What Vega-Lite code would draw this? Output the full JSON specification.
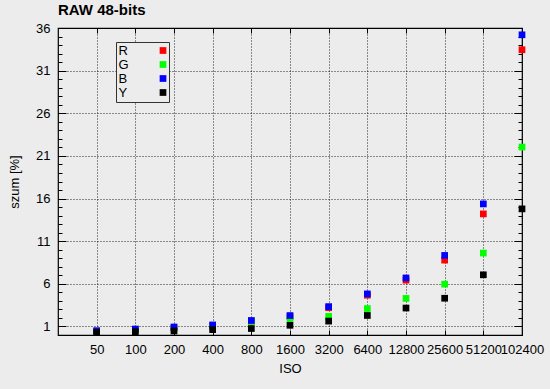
{
  "$schema": "https://vega.github.io/schema/vega-lite/v6.json",
  "width": 464,
  "height": 307,
  "autosize": "none",
  "padding": {"left": 58, "top": 28, "right": 28, "bottom": 54},
  "background": "#ececec",
  "title": {"text": "RAW 48-bits", "anchor": "start", "frame": "group", "font": "Liberation Sans", "fontSize": 15, "fontWeight": "bold", "color": "#000", "offset": 4},
  "config": {
    "view": {"stroke": "#000", "strokeWidth": 1.2, "fill": "#ececec"},
    "axis": {"labelFont": "Liberation Sans", "labelFontSize": 13, "labelColor": "#000", "titleFont": "Liberation Sans", "titleFontSize": 13, "titleFontWeight": "normal", "titleColor": "#000", "domain": false, "tickColor": "#000", "tickWidth": 1, "gridColor": "#000", "gridDash": [1, 2], "gridOpacity": 0.85, "gridWidth": 1}
  },
  "data": {"values": [
    {"ISO": 50, "channel": "R", "value": 0.45},
    {"ISO": 50, "channel": "G", "value": 0.4},
    {"ISO": 50, "channel": "B", "value": 0.5},
    {"ISO": 50, "channel": "Y", "value": 0.31},
    {"ISO": 100, "channel": "R", "value": 0.62},
    {"ISO": 100, "channel": "G", "value": 0.52},
    {"ISO": 100, "channel": "B", "value": 0.7},
    {"ISO": 100, "channel": "Y", "value": 0.39},
    {"ISO": 200, "channel": "R", "value": 0.85},
    {"ISO": 200, "channel": "G", "value": 0.7},
    {"ISO": 200, "channel": "B", "value": 0.94},
    {"ISO": 200, "channel": "Y", "value": 0.47},
    {"ISO": 400, "channel": "R", "value": 1.08},
    {"ISO": 400, "channel": "G", "value": 0.9},
    {"ISO": 400, "channel": "B", "value": 1.18},
    {"ISO": 400, "channel": "Y", "value": 0.63},
    {"ISO": 800, "channel": "R", "value": 1.62},
    {"ISO": 800, "channel": "G", "value": 1.59},
    {"ISO": 800, "channel": "B", "value": 1.7},
    {"ISO": 800, "channel": "Y", "value": 0.76},
    {"ISO": 1600, "channel": "R", "value": 2.15},
    {"ISO": 1600, "channel": "G", "value": 1.94},
    {"ISO": 1600, "channel": "B", "value": 2.28},
    {"ISO": 1600, "channel": "Y", "value": 1.14},
    {"ISO": 3200, "channel": "R", "value": 3.2},
    {"ISO": 3200, "channel": "G", "value": 2.18},
    {"ISO": 3200, "channel": "B", "value": 3.33},
    {"ISO": 3200, "channel": "Y", "value": 1.63},
    {"ISO": 6400, "channel": "R", "value": 4.67},
    {"ISO": 6400, "channel": "G", "value": 3.1},
    {"ISO": 6400, "channel": "B", "value": 4.82},
    {"ISO": 6400, "channel": "Y", "value": 2.29},
    {"ISO": 12800, "channel": "R", "value": 6.43},
    {"ISO": 12800, "channel": "G", "value": 4.29},
    {"ISO": 12800, "channel": "B", "value": 6.69},
    {"ISO": 12800, "channel": "Y", "value": 3.16},
    {"ISO": 25600, "channel": "R", "value": 8.78},
    {"ISO": 25600, "channel": "G", "value": 5.96},
    {"ISO": 25600, "channel": "B", "value": 9.33},
    {"ISO": 25600, "channel": "Y", "value": 4.31},
    {"ISO": 51200, "channel": "R", "value": 14.2},
    {"ISO": 51200, "channel": "G", "value": 9.61},
    {"ISO": 51200, "channel": "B", "value": 15.37},
    {"ISO": 51200, "channel": "Y", "value": 7.06},
    {"ISO": 102400, "channel": "R", "value": 33.45},
    {"ISO": 102400, "channel": "G", "value": 22.04},
    {"ISO": 102400, "channel": "B", "value": 35.2},
    {"ISO": 102400, "channel": "Y", "value": 14.79}
  ]},
  "layer": [
    {
      "mark": {"type": "square", "size": 45, "opacity": 1, "strokeWidth": 0},
      "encoding": {
        "x": {"field": "ISO", "type": "quantitative", "scale": {"type": "log", "base": 2, "domain": [25, 102400], "nice": false},
              "axis": {"orient": "bottom", "values": [50, 100, 200, 400, 800, 1600, 3200, 6400, 12800, 25600, 51200, 102400], "format": "d", "labelOverlap": false, "labelBound": false, "labelFlush": false, "ticks": false, "labelPadding": 8, "grid": true, "title": "ISO", "titlePadding": 6}},
        "y": {"field": "value", "type": "quantitative", "scale": {"domain": [0, 36], "nice": false, "zero": true},
              "axis": {"orient": "left", "values": [1, 6, 11, 16, 21, 26, 31, 36], "ticks": false, "labelPadding": 8, "grid": true, "title": "szum [%]", "titlePadding": 14}},
        "color": {"field": "channel", "type": "nominal", "sort": ["R", "G", "B", "Y"],
                  "scale": {"domain": ["R", "G", "B", "Y"], "range": ["#ff0000", "#00ff00", "#0000ff", "#000000"]},
                  "legend": {"orient": "none", "legendX": 58, "legendY": 14, "title": null, "symbolType": "square", "symbolSize": 45, "symbolStrokeWidth": 0, "symbolOpacity": 1, "labelFont": "Liberation Sans", "labelFontSize": 13, "labelColor": "#000", "padding": 2, "labelOffset": -51, "symbolOffset": 38.5, "rowPadding": -3.2, "strokeColor": "#333", "fillColor": "#ececec", "labelExpr": "'\u00a0' + datum.label"}}
      }
    },
    {
      "mark": {"type": "point", "opacity": 0},
      "encoding": {
        "x": {"field": "ISO", "type": "quantitative", "scale": {"type": "log", "base": 2, "domain": [25, 102400], "nice": false},
              "axis": {"orient": "bottom", "values": [50, 100, 200, 400, 800, 1600, 3200, 6400, 12800, 25600, 51200, 102400], "labels": false, "grid": false, "tickSize": -5, "title": null}},
        "y": {"field": "value", "type": "quantitative", "scale": {"domain": [0, 36], "nice": false, "zero": true},
              "axis": {"orient": "left", "values": [1, 6, 11, 16, 21, 26, 31, 36], "labels": false, "grid": false, "tickSize": -8, "title": null}}
      }
    },
    {
      "mark": {"type": "point", "opacity": 0},
      "encoding": {
        "x": {"field": "ISO", "type": "quantitative", "scale": {"type": "log", "base": 2, "domain": [25, 102400], "nice": false},
              "axis": {"orient": "top", "values": [50, 100, 200, 400, 800, 1600, 3200, 6400, 12800, 25600, 51200, 102400], "labels": false, "grid": false, "tickSize": -5, "title": null}},
        "y": {"field": "value", "type": "quantitative", "scale": {"domain": [0, 36], "nice": false, "zero": true},
              "axis": {"orient": "right", "values": [1, 6, 11, 16, 21, 26, 31, 36], "labels": false, "grid": false, "tickSize": -8, "title": null}}
      }
    },
    {
      "mark": {"type": "point", "opacity": 0},
      "encoding": {
        "x": {"field": "ISO", "type": "quantitative", "scale": {"type": "log", "base": 2, "domain": [25, 102400], "nice": false}, "axis": null},
        "y": {"field": "value", "type": "quantitative", "scale": {"domain": [0, 36], "nice": false, "zero": true},
              "axis": {"orient": "left", "values": [0,1,2,3,4,5,6,7,8,9,10,11,12,13,14,15,16,17,18,19,20,21,22,23,24,25,26,27,28,29,30,31,32,33,34,35,36], "labels": false, "grid": false, "tickSize": -4, "title": null}}
      }
    },
    {
      "mark": {"type": "point", "opacity": 0},
      "encoding": {
        "x": {"field": "ISO", "type": "quantitative", "scale": {"type": "log", "base": 2, "domain": [25, 102400], "nice": false}, "axis": null},
        "y": {"field": "value", "type": "quantitative", "scale": {"domain": [0, 36], "nice": false, "zero": true},
              "axis": {"orient": "right", "values": [0,1,2,3,4,5,6,7,8,9,10,11,12,13,14,15,16,17,18,19,20,21,22,23,24,25,26,27,28,29,30,31,32,33,34,35,36], "labels": false, "grid": false, "tickSize": -4, "title": null}}
      }
    }
  ],
  "resolve": {"axis": {"x": "independent", "y": "independent"}}
}
